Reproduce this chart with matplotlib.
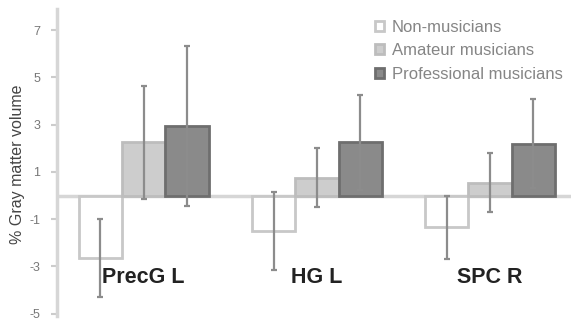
import matplotlib
matplotlib.use("Agg")
import matplotlib.pyplot as plt
import numpy as np

categories = ["PrecG L", "HG L", "SPC R"]
groups = ["Non-musicians", "Amateur musicians", "Professional musicians"]
non_vals = [-2.65, -1.5, -1.35]
non_err = [1.65, 1.65, 1.35]
ama_vals = [2.25, 0.75, 0.55]
ama_err = [2.4, 1.25, 1.25]
pro_vals = [2.95, 2.25, 2.2]
pro_err = [3.4, 2.0, 1.9]
yticks = [-5, -3, -1, 1, 3, 5, 7]

plt.rcParams['font.family'] = ['Liberation Sans', 'DejaVu Sans']
fig = plt.figure(figsize=(5.71, 3.21), dpi=100)
ax = fig.add_axes([57/571, 5/321, 1 - 57/571 + 0.01, 1 - 5/321 - 9/321])

x = np.arange(len(categories))
w = 0.25
styles = [
    dict(vals=non_vals, err=non_err, fc="white", ec="#c8c8c8"),
    dict(vals=ama_vals, err=ama_err, fc="#cdcdcd", ec="#bdbdbd"),
    dict(vals=pro_vals, err=pro_err, fc="#8a8a8a", ec="#6e6e6e"),
]
ax.axhline(0, color="#d6d6d6", lw=2.5, zorder=1)
handles = []
for i, s in enumerate(styles):
    pos = x + (i - 1) * w
    b = ax.bar(pos, s["vals"], width=w, color=s["fc"], edgecolor=s["ec"], linewidth=2, zorder=2, label=groups[i])
    ax.errorbar(pos, s["vals"], yerr=s["err"], fmt="none", ecolor="#8c8c8c", elinewidth=1.6, capsize=2, capthick=1.6, zorder=3)
    handles.append(b)

for i, c in enumerate(categories):
    ax.text(x[i], -3.45, c, ha="center", va="center", fontsize=15.5, fontweight="bold", color="#222222", zorder=4)

ax.set_xlim(-0.5, 2.5)
ax.set_ylim(-5.1, 7.9)
ax.set_yticks(yticks)
ax.set_yticklabels([str(t) for t in yticks], fontsize=9, color="#777777")
ax.tick_params(axis="y", length=4, width=1.5, color="#cccccc", pad=8)
ax.set_xticks([])
for sp in ["top", "right", "bottom"]:
    ax.spines[sp].set_visible(False)
ax.spines["left"].set_color("#d6d6d6")
ax.spines["left"].set_linewidth(2.5)
fig.text(18/571, 1 - 164/321, "% Gray matter volume", rotation=90, ha="center", va="center",
         fontsize=11.5, color="#444444")

leg = ax.legend(handles=handles, loc="upper left", frameon=False, fontsize=12, labelcolor="#858585",
                handlelength=0.55, handleheight=0.55, handletextpad=0.45, labelspacing=0.5, borderaxespad=0.0,
                borderpad=0.0)
leg.set_bbox_to_anchor((375/571, 1 - 20/321), transform=fig.transFigure)

fig.savefig("out.png", dpi=100)
